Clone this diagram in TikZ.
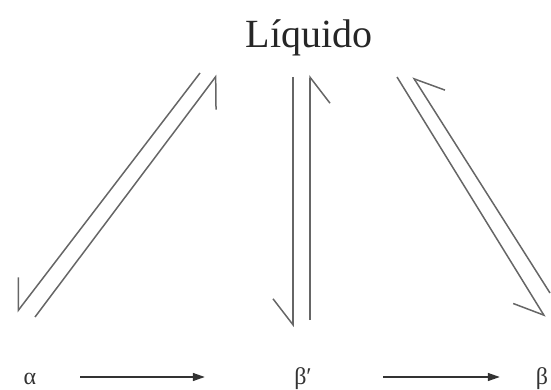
\documentclass[tikz,border=0pt]{standalone}
\usepackage{fontspec}
\setmainfont{Liberation Serif}
\usepackage{tikz}
\usetikzlibrary{arrows.meta, positioning}
\tikzstyle{title} = [font=\fontsize{40}{44}\selectfont, text=black!85, inner sep=0pt]
\tikzstyle{phase} = [font=\fontsize{24}{28}\selectfont, text=black!80, inner sep=0pt, minimum width=20pt, text height=18pt, text depth=4pt, anchor=base]
\tikzstyle{harp} = [line width=1.5pt, draw=black!60, -{Straight Barb[right, length=26pt, width=40pt]}]
\tikzstyle{arrow} = [line width=1.4pt, draw=black!80, -{Triangle[length=12pt, width=8pt]}]

\begin{document}
\begin{tikzpicture}[x=1pt, y=-1pt]
    \useasboundingbox (0,0) rectangle (551,390);

    \node (liq) [title] at (309,38) {Líquido};
    \node (alpha) [phase] at (30,384) {α};
    \node (betap) [phase] at (303,384) {β′};
    \node (beta) [phase] at (542,384) {β};

    % free ends of the double arrows
    \coordinate (l1s) at (200,73);
    \coordinate (l1e) at (17,312);
    \coordinate (l2s) at (35,317);
    \coordinate (l2e) at (217,75);
    \coordinate (m1s) at (293,77);
    \coordinate (m1e) at (293,327);
    \coordinate (m2s) at (310,320);
    \coordinate (m2e) at (310,75);
    \coordinate (r1s) at (397,77);
    \coordinate (r1e) at (545,317);
    \coordinate (r2s) at (550,293);
    \coordinate (r2e) at (413,77);

    \draw [harp] (l1s) -- (l1e);
    \draw [harp] (l2s) -- (l2e);
    \draw [harp] (m1s) -- (m1e);
    \draw [harp] (m2s) -- (m2e);
    \draw [harp] (r1s) -- (r1e);
    \draw [harp] (r2s) -- (r2e);

    \draw [arrow, shorten <=40pt, shorten >=88pt] (alpha) -- (betap);
    \draw [arrow, shorten <=70pt, shorten >=32pt] (betap) -- (beta);
\end{tikzpicture}
\end{document}
